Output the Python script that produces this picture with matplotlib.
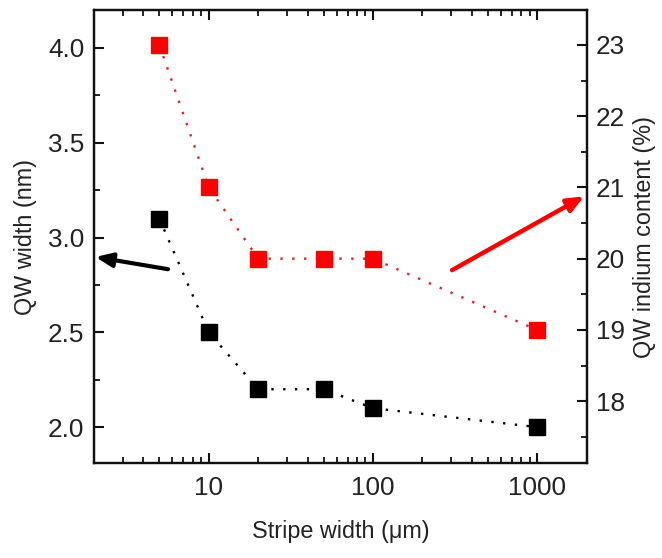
import matplotlib
matplotlib.use("Agg")
import matplotlib.pyplot as plt
from matplotlib.ticker import FixedLocator, MultipleLocator, LogLocator, NullFormatter

plt.rcParams['font.family'] = ['Liberation Sans', 'DejaVu Sans']

# Stripe widths (um)
stripe_width = [5, 10, 20, 50, 100, 1000]
# Quantum well width (nm), left axis
qw_width = [3.1, 2.5, 2.2, 2.2, 2.1, 2.0]
# Indium content (%), right axis
indium_content = [23, 21, 20, 20, 20, 19]

x_ticks = [10, 100, 1000]
x_ticklabels = ["10", "100", "1000"]
left_ticks = [2.0, 2.5, 3.0, 3.5, 4.0]
right_ticks = [18, 19, 20, 21, 22, 23]

fig = plt.figure(figsize=(6.62, 5.58), dpi=100)
ax = fig.add_axes([0.142, 0.170, 0.745, 0.812])
ax2 = ax.twinx()

tick_color = "#222222"
fs_tick = 18.8
fs_label = 16.8

ax.plot(stripe_width, qw_width, linestyle=(0, (1, 4)), color="black", lw=1.7,
        marker="s", markersize=12.2, markerfacecolor="black", markeredgecolor="black")
ax2.plot(stripe_width, indium_content, linestyle=(0, (1, 4)), color="#e02020", lw=1.7,
         marker="s", markersize=12.2, markerfacecolor="#ff0000", markeredgecolor="#ff0000")

ax.set_xscale("log")
ax.set_xlim(2.0, 2018)
ax.set_ylim(1.81, 4.2)
ax2.set_ylim(17.13, 23.49)

ax.xaxis.set_major_locator(FixedLocator(x_ticks))
ax.set_xticklabels(x_ticklabels)
ax.xaxis.set_minor_locator(LogLocator(base=10, subs=range(2, 10), numticks=20))
ax.xaxis.set_minor_formatter(NullFormatter())

ax.set_yticks(left_ticks)
ax.set_yticklabels([f"{v:.1f}" for v in left_ticks])
ax.yaxis.set_minor_locator(MultipleLocator(0.25))
ax2.set_yticks(right_ticks)
ax2.set_yticklabels([str(v) for v in right_ticks])
ax2.yaxis.set_minor_locator(MultipleLocator(0.5))

for a in (ax, ax2):
    for s in a.spines.values():
        s.set_linewidth(1.6)
        s.set_color("#111111")

ax.tick_params(axis="both", which="major", direction="in", length=7, width=1.5,
               labelsize=fs_tick, colors="#111111", labelcolor=tick_color, top=True, right=False)
ax.tick_params(axis="both", which="minor", direction="in", length=4, width=1.3,
               colors="#111111", top=True, right=False)
ax.tick_params(axis="y", which="major", pad=7)
ax.tick_params(axis="x", which="major", pad=9)
ax2.tick_params(axis="y", which="major", direction="in", length=7, width=1.5,
                labelsize=fs_tick, colors="#111111", labelcolor=tick_color, pad=6)
ax2.tick_params(axis="y", which="minor", direction="in", length=4, width=1.3, colors="#111111")

ax.set_xlabel("Stripe width (\u03bcm)", fontsize=fs_label, color=tick_color, labelpad=15)
ax.set_ylabel("QW width (nm)", fontsize=fs_label, color=tick_color, labelpad=8)
ax2.set_ylabel("QW indium content (%)", fontsize=fs_label, color=tick_color, labelpad=6)

# Arrows pointing each series to its axis
ax.annotate("", xy=(0.003, 0.455), xytext=(0.150, 0.428), xycoords="axes fraction",
            textcoords="axes fraction",
            arrowprops=dict(arrowstyle="-|>,head_length=1.0,head_width=0.42", color="black", lw=3.0,
                            shrinkA=0, shrinkB=0))
ax.annotate("", xy=(0.994, 0.589), xytext=(0.726, 0.426), xycoords="axes fraction",
            textcoords="axes fraction",
            arrowprops=dict(arrowstyle="-|>,head_length=1.0,head_width=0.42", color="#ff0000", lw=3.2,
                            shrinkA=0, shrinkB=0))

fig.savefig("out.png", dpi=100)
